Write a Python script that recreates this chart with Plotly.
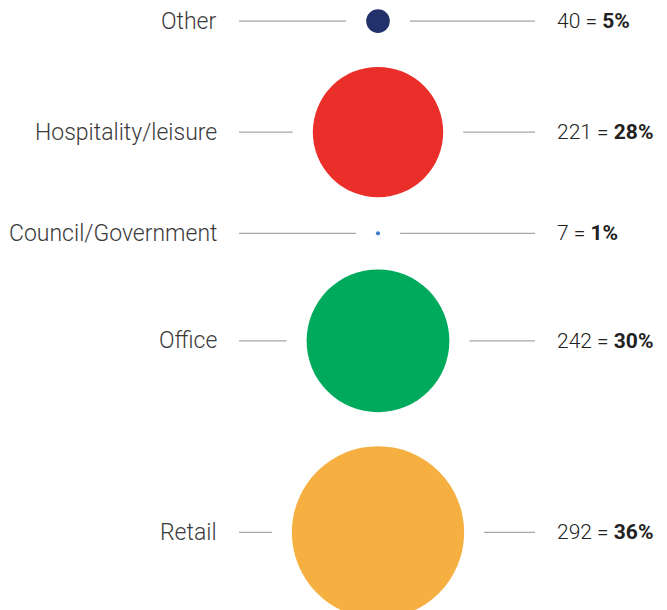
import plotly.graph_objects as go

categories = ["Other", "Hospitality/leisure", "Council/Government", "Office", "Retail"]
counts = [40, 221, 7, 242, 292]
percents = [5, 28, 1, 30, 36]
colors = ["#22316A", "#EA2E29", "#3B7BC8", "#00AA5C", "#F5B041"]

W, H = 667, 610
OFF = 8           # page body margin
CX = 378          # circle column centre (px)
K = 0.59          # px of diameter per unit
GAP = 34          # vertical gap between circles
TOP = 9.3
LEFT_LINE_X = 239
RIGHT_LINE_X = 535
LINE_GAP = 20
LABEL_RIGHT = 219
VALUE_LEFT = 555

diam = [c * K for c in counts]
ys = []
y = TOP
for d in diam:
    ys.append(y + d / 2)
    y += d + GAP

fig = go.Figure()

shapes = []
for d, yc in zip(diam, ys):
    r = d / 2
    shapes.append(dict(type="line", xref="x", yref="y", x0=LEFT_LINE_X, x1=CX - r - LINE_GAP,
                       y0=yc, y1=yc, line=dict(color="#A6A6A6", width=1.2)))
    shapes.append(dict(type="line", xref="x", yref="y", x0=CX + r + LINE_GAP, x1=RIGHT_LINE_X,
                       y0=yc, y1=yc, line=dict(color="#A6A6A6", width=1.2)))

fig.add_trace(go.Scatter(
    x=[CX] * len(counts), y=ys, mode="markers",
    marker=dict(size=diam, sizemode="diameter", color=colors, line=dict(width=0), opacity=1),
    hoverinfo="skip", showlegend=False, cliponaxis=True,
))

annotations = []
for cat, cnt, pct, yc in zip(categories, counts, percents, ys):
    annotations.append(dict(x=LABEL_RIGHT, y=yc, xref="x", yref="y", text=cat, showarrow=False,
                            xanchor="right", yanchor="middle",
                            font=dict(family="Roboto", size=23, color="#3A3A3A", weight=300)))
    annotations.append(dict(x=VALUE_LEFT, y=yc, xref="x", yref="y",
                            text=f"{cnt} = <b>{pct}%</b>", showarrow=False,
                            xanchor="left", yanchor="middle",
                            font=dict(family="Roboto", size=21, color="#222222", weight=300)))

fig.update_layout(
    width=W - OFF, height=H - OFF,
    margin=dict(l=0, r=0, t=0, b=0),
    paper_bgcolor="white", plot_bgcolor="white",
    xaxis=dict(range=[OFF, W], visible=False, fixedrange=True),
    yaxis=dict(range=[H, OFF], visible=False, fixedrange=True),
    shapes=shapes, annotations=annotations,
    showlegend=False,
)

fig.write_html("out.html")
